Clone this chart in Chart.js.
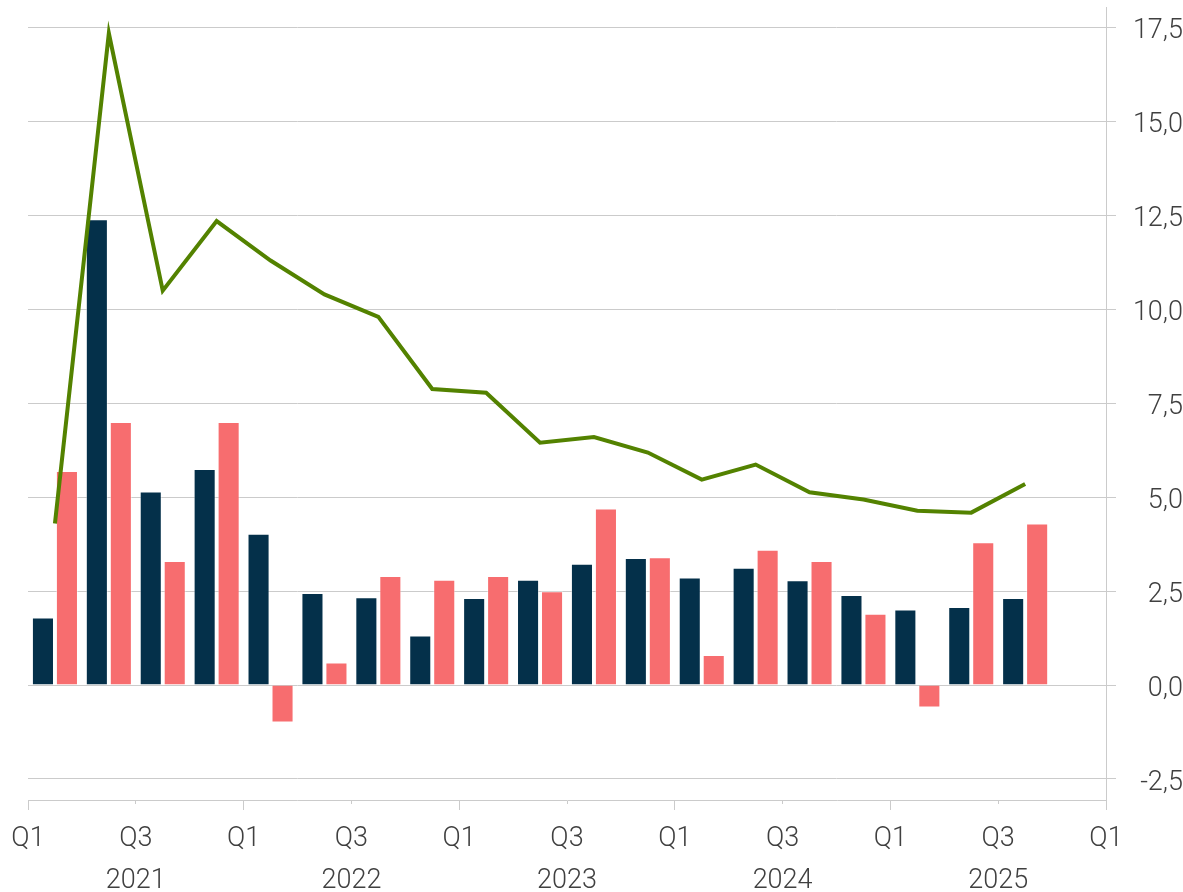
<!DOCTYPE html>
<html>
<head>
<meta charset="utf-8">
<script src="https://cdn.jsdelivr.net/npm/chart.js@4.4.1/dist/chart.umd.min.js"></script>
<style>
  html, body { margin: 0; padding: 0; background: #fff; }
</style>
</head>
<body>
<canvas id="chart" width="1183" height="892"></canvas>
<script>
// Daten (Quartale 2021 Q1 bis 2025 Q3)
const quarters = ['2021 Q1','2021 Q2','2021 Q3','2021 Q4','2022 Q1','2022 Q2','2022 Q3','2022 Q4',
                  '2023 Q1','2023 Q2','2023 Q3','2023 Q4','2024 Q1','2024 Q2','2024 Q3','2024 Q4',
                  '2025 Q1','2025 Q2','2025 Q3'];
const seriesNavy  = [1.8, 12.4, 5.15, 5.75, 4.03, 2.45, 2.34, 1.32, 2.32, 2.8, 3.23, 3.38, 2.86, 3.12, 2.79, 2.4, 2.01, 2.08, 2.32];
const seriesCoral = [5.7, 7.0, 3.3, 7.0, -1.0, 0.6, 2.9, 2.8, 2.9, 2.5, 4.7, 3.4, 0.8, 3.6, 3.3, 1.9, -0.6, 3.8, 4.3];
const seriesLine  = [4.3, 17.35, 10.5, 12.35, 11.3, 10.4, 9.8, 7.88, 7.78, 6.45, 6.6, 6.19, 5.47, 5.87, 5.13, 4.94, 4.64, 4.59, 5.35];

// Achsenbeschriftungen
const xTickLabels = ['Q1','Q3','Q1','Q3','Q1','Q3','Q1','Q3','Q1','Q3','Q1'];
const yearLabels  = ['2021','2022','2023','2024','2025'];
const yTicks      = [-2.5, 0, 2.5, 5, 7.5, 10, 12.5, 15, 17.5];

const NAVY = '#04304a';
const CORAL = '#f76d6f';
const GREEN = '#538200';
const GRID = '#cbcbcb';
const TEXT = '#404040';

// Quartal -> Mitte des Quartalsfeldes auf der x-Achse
const toPoints = arr => arr.map((v, i) => ({ x: i + 0.5, y: v }));

new Chart(document.getElementById('chart'), {
    type: 'bar',
    data: {
        datasets: [
            {
                type: 'line',
                label: 'line',
                data: toPoints(seriesLine),
                borderColor: GREEN,
                borderWidth: 4,
                pointRadius: 0,
                tension: 0,
                fill: false
            },
            {
                label: 'navy',
                data: toPoints(seriesNavy),
                backgroundColor: NAVY,
                borderColor: 'rgba(255,255,255,0.45)',
                borderWidth: 1,
                categoryPercentage: 0.89,
                barPercentage: 0.92
            },
            {
                label: 'coral',
                data: toPoints(seriesCoral),
                backgroundColor: CORAL,
                borderColor: 'rgba(255,255,255,0.45)',
                borderWidth: 1,
                categoryPercentage: 0.89,
                barPercentage: 0.92
            }
        ]
    },
    options: {
        responsive: false,
        animation: false,
        layout: { padding: { top: 7, left: 28, right: 0, bottom: 0 } },
        plugins: {
            legend: { display: false },
            tooltip: { enabled: false }
        },
        scales: {
            x: {
                type: 'linear',
                min: 0,
                max: 20,
                offset: false,
                afterBuildTicks: s => { s.ticks = xTickLabels.map((_, i) => ({ value: i * 2 })); },
                afterFit: s => { s.height = 92; },
                grid: {
                    offset: false,
                    drawOnChartArea: false,
                    color: GRID,
                    tickLength: 10,
                    tickBorderDash: ctx => (ctx.index % 2 === 1 ? [3, 40] : [])
                },
                border: { color: GRID, width: 1 },
                ticks: {
                    color: TEXT,
                    font: { family: 'Roboto', size: 27, weight: 300, lineHeight: 1.55 },
                    padding: 8,
                    maxRotation: 0,
                    autoSkip: false,
                    callback: v => {
                        const idx = Math.round(v / 2);
                        const lbl = xTickLabels[idx];
                        if (idx % 2 === 1) return [lbl, yearLabels[(idx - 1) / 2]];
                        return lbl;
                    }
                }
            },
            y: {
                position: 'right',
                min: -3.06,
                max: 18.05,
                afterBuildTicks: s => { s.ticks = yTicks.map(v => ({ value: v })); },
                afterFit: s => { s.width = 77; s.paddingTop = 0; s.paddingBottom = 0; },
                grid: { color: GRID, tickLength: 10 },
                border: { color: GRID, width: 1 },
                ticks: {
                    color: TEXT,
                    font: { family: 'Roboto', size: 27, weight: 300, lineHeight: 1.2 },
                    padding: 9,
                    labelOffset: 4,
                    crossAlign: 'far',
                    callback: v => v.toFixed(1).replace('.', ',')
                }
            }
        }
    }
});
</script>
</body>
</html>
